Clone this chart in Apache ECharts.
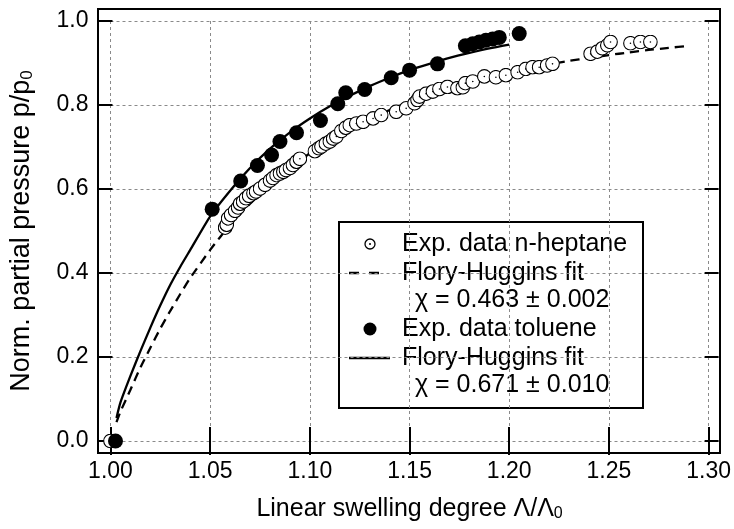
<!DOCTYPE html>
<html><head><meta charset="utf-8">
<script src="https://cdn.jsdelivr.net/npm/echarts@6/dist/echarts.min.js"></script>
<style>html,body{margin:0;padding:0;background:#fff}#c{width:734px;height:529px}</style>
</head><body><div id="c"></div>
<script>
// ---- data ----
var xTicks = [1.00, 1.05, 1.10, 1.15, 1.20, 1.25, 1.30];
var xTickLabels = ['1.00', '1.05', '1.10', '1.15', '1.20', '1.25', '1.30'];
var yTicks = [0.0, 0.2, 0.4, 0.6, 0.8, 1.0];
var yTickLabels = ['0.0', '0.2', '0.4', '0.6', '0.8', '1.0'];

var heptaneX = [1.000, 1.0575, 1.0583, 1.059, 1.0605, 1.0625, 1.064, 1.065, 1.0665, 1.068, 1.0695, 1.0717, 1.073, 1.075, 1.0775, 1.080, 1.0815, 1.0833, 1.085, 1.0867, 1.088, 1.090, 1.0915, 1.0933, 1.095, 1.1025, 1.1045, 1.1058, 1.108, 1.110, 1.1117, 1.1133, 1.1158, 1.118, 1.120, 1.1233, 1.1267, 1.1317, 1.1358, 1.1433, 1.1483, 1.1525, 1.154, 1.155, 1.1583, 1.1617, 1.165, 1.169, 1.174, 1.1767, 1.178, 1.1817, 1.1875, 1.1933, 1.1983, 1.2042, 1.2083, 1.2117, 1.215, 1.219, 1.2217, 1.2408, 1.2442, 1.2467, 1.2492, 1.2508, 1.2608, 1.2658, 1.2708];
var heptaneY = [0.000, 0.508, 0.515, 0.530, 0.538, 0.548, 0.556, 0.565, 0.570, 0.578, 0.584, 0.590, 0.594, 0.601, 0.610, 0.620, 0.626, 0.633, 0.637, 0.641, 0.645, 0.650, 0.657, 0.665, 0.672, 0.690, 0.697, 0.701, 0.708, 0.713, 0.720, 0.725, 0.738, 0.746, 0.752, 0.756, 0.760, 0.768, 0.776, 0.784, 0.792, 0.804, 0.812, 0.820, 0.827, 0.832, 0.838, 0.843, 0.840, 0.842, 0.852, 0.856, 0.868, 0.866, 0.871, 0.878, 0.886, 0.890, 0.890, 0.894, 0.898, 0.922, 0.927, 0.935, 0.942, 0.950, 0.947, 0.950, 0.950];

var tolueneX = [1.0025, 1.051, 1.0653, 1.0737, 1.0808, 1.085, 1.0933, 1.1053, 1.114, 1.118, 1.1275, 1.1408, 1.150, 1.164, 1.178, 1.1817, 1.185, 1.1883, 1.1917, 1.195, 1.205];
var tolueneY = [0.000, 0.552, 0.619, 0.656, 0.681, 0.713, 0.734, 0.763, 0.803, 0.829, 0.837, 0.865, 0.883, 0.898, 0.941, 0.946, 0.950, 0.954, 0.957, 0.961, 0.970];

var fitHeptaneX = [1.003, 1.005, 1.010, 1.015, 1.020, 1.025, 1.030, 1.035, 1.040, 1.050, 1.060, 1.070, 1.080, 1.090, 1.100, 1.110, 1.120, 1.130, 1.140, 1.150, 1.160, 1.170, 1.180, 1.190, 1.200, 1.210, 1.220, 1.230, 1.240, 1.250, 1.260, 1.270, 1.280, 1.290];
var fitHeptaneY = [0.045, 0.070, 0.122, 0.175, 0.222, 0.268, 0.310, 0.350, 0.388, 0.455, 0.515, 0.565, 0.610, 0.650, 0.685, 0.716, 0.742, 0.766, 0.788, 0.808, 0.825, 0.841, 0.854, 0.866, 0.877, 0.887, 0.897, 0.905, 0.912, 0.919, 0.925, 0.931, 0.936, 0.941];

var fitTolueneX = [1.003, 1.005, 1.010, 1.015, 1.020, 1.025, 1.030, 1.035, 1.040, 1.050, 1.060, 1.070, 1.080, 1.090, 1.100, 1.110, 1.120, 1.130, 1.140, 1.150, 1.160, 1.170, 1.180, 1.190, 1.200];
var fitTolueneY = [0.055, 0.092, 0.155, 0.214, 0.270, 0.323, 0.372, 0.415, 0.455, 0.535, 0.596, 0.650, 0.696, 0.735, 0.768, 0.797, 0.822, 0.845, 0.865, 0.883, 0.898, 0.912, 0.924, 0.935, 0.944];

function zip(a, b) { return a.map(function (v, i) { return [v, b[i]]; }); }

var FONT = '"Liberation Sans", Arial, Helvetica, sans-serif';
var openSym = 'image://data:image/svg+xml;charset=utf-8,' + encodeURIComponent(
  "<svg xmlns='http://www.w3.org/2000/svg' width='30' height='30' viewBox='0 0 30 30'>" +
  "<circle cx='15' cy='15' r='13.6' fill='white' stroke='black' stroke-width='2.2'/>" +
  "<circle cx='15' cy='15' r='1.6' fill='black'/></svg>");

var gridLine = { show: true, lineStyle: { color: '#8a8a8a', type: [3, 3], width: 1 } };
var tick = { show: true, inside: true, length: 14, lineStyle: { color: '#000', width: 2 } };
var LFONT = '25px ' + FONT;

var chart = echarts.init(document.getElementById('c'), null, { renderer: 'canvas' });
chart.setOption({
  animation: false,
  backgroundColor: '#fff',
  textStyle: { fontFamily: FONT },
  grid: [
    { left: 98, top: 9, width: 622, height: 444, show: true, borderColor: '#000', borderWidth: 2, backgroundColor: 'transparent' },
    { left: 110, top: 21, width: 600, height: 420 }
  ],
  xAxis: [
    { gridIndex: 0, type: 'value', min: 0.994, max: 1.305, show: false },
    { gridIndex: 1, type: 'value', min: 1.0, max: 1.3, interval: 0.05, position: 'bottom', offset: 12,
      axisLine: { show: false }, axisTick: tick, splitLine: gridLine,
      axisLabel: { fontSize: 23, color: '#000', margin: 7, fontFamily: FONT,
        formatter: function (v) { var i = xTicks.findIndex(function (t) { return Math.abs(t - v) < 1e-6; }); return i >= 0 ? xTickLabels[i] : ''; } },
      name: 'Linear swelling degree Λ/Λ{sub|0}', nameLocation: 'middle', nameGap: 43,
      nameTextStyle: { fontSize: 25, color: '#000', fontFamily: FONT,
        rich: { sub: { fontSize: 16, color: '#000', fontFamily: FONT, verticalAlign: 'bottom', padding: [10, 0, 0, 0] } } } },
    { gridIndex: 1, type: 'value', min: 1.0, max: 1.3, interval: 0.05, position: 'top', offset: 12,
      axisLine: { show: false }, axisTick: tick, splitLine: { show: false }, axisLabel: { show: false } }
  ],
  yAxis: [
    { gridIndex: 0, type: 'value', min: -0.0286, max: 1.0286, show: false },
    { gridIndex: 1, type: 'value', min: 0, max: 1, interval: 0.2, position: 'left', offset: 12,
      axisLine: { show: false }, axisTick: tick, splitLine: gridLine,
      axisLabel: { fontSize: 23, color: '#000', margin: 10, fontFamily: FONT,
        formatter: function (v) { var i = yTicks.findIndex(function (t) { return Math.abs(t - v) < 1e-6; }); return i >= 0 ? yTickLabels[i] : ''; } },
      name: 'Norm. partial pressure p/p{sub|0}', nameLocation: 'middle', nameGap: 63,
      nameTextStyle: { fontSize: 27, color: '#000', fontFamily: FONT,
        rich: { sub: { fontSize: 17, color: '#000', fontFamily: FONT, verticalAlign: 'bottom', padding: [11, 0, 0, 0] } } } },
    { gridIndex: 1, type: 'value', min: 0, max: 1, interval: 0.2, position: 'right', offset: 10,
      axisLine: { show: false }, axisTick: tick, splitLine: { show: false }, axisLabel: { show: false } }
  ],
  series: [
    { name: 'Flory-Huggins fit (n-heptane)', type: 'line', xAxisIndex: 1, yAxisIndex: 1, data: zip(fitHeptaneX, fitHeptaneY),
      showSymbol: false, smooth: 0.2, clip: false, z: 2, lineStyle: { color: '#000', width: 2.3, type: [9, 6] } },
    { name: 'Flory-Huggins fit (toluene)', type: 'line', xAxisIndex: 1, yAxisIndex: 1, data: zip(fitTolueneX, fitTolueneY),
      showSymbol: false, smooth: 0.2, clip: false, z: 2, lineStyle: { color: '#000', width: 2.3 } },
    { name: 'Exp. data n-heptane', type: 'scatter', xAxisIndex: 1, yAxisIndex: 1, data: zip(heptaneX, heptaneY),
      symbol: openSym, symbolSize: 15, clip: false, z: 3, itemStyle: { opacity: 1 } },
    { name: 'Exp. data toluene', type: 'scatter', xAxisIndex: 1, yAxisIndex: 1, data: zip(tolueneX, tolueneY),
      symbol: 'circle', symbolSize: 15, clip: false, z: 4, itemStyle: { color: '#000', opacity: 1 } }
  ],
  graphic: [
    { type: 'group', z: 100, children: [
      { type: 'rect', shape: { x: 339, y: 222, width: 304, height: 186 }, style: { fill: '#fff', stroke: '#000', lineWidth: 2 } },
      { type: 'circle', shape: { cx: 370, cy: 244, r: 5 }, style: { fill: '#fff', stroke: '#000', lineWidth: 1.3 } },
      { type: 'circle', shape: { cx: 370, cy: 244, r: 1 }, style: { fill: '#000' } },
      { type: 'line', shape: { x1: 349, y1: 273, x2: 381, y2: 273 }, style: { stroke: '#000', lineWidth: 2.3, lineDash: [10, 10] } },
      { type: 'circle', shape: { cx: 370, cy: 329, r: 6.5 }, style: { fill: '#000' } },
      { type: 'line', shape: { x1: 349, y1: 358, x2: 390, y2: 358 }, style: { stroke: '#000', lineWidth: 2.3 } },
      { type: 'text', style: { x: 402, y: 244, text: 'Exp. data n-heptane', fill: '#000', font: LFONT, textVerticalAlign: 'middle' } },
      { type: 'text', style: { x: 402, y: 273, text: 'Flory-Huggins fit', fill: '#000', font: LFONT, textVerticalAlign: 'middle' } },
      { type: 'text', style: { x: 415, y: 300, text: 'χ = 0.463 ± 0.002', fill: '#000', font: LFONT, textVerticalAlign: 'middle' } },
      { type: 'text', style: { x: 402, y: 329, text: 'Exp. data toluene', fill: '#000', font: LFONT, textVerticalAlign: 'middle' } },
      { type: 'text', style: { x: 402, y: 358, text: 'Flory-Huggins fit', fill: '#000', font: LFONT, textVerticalAlign: 'middle' } },
      { type: 'text', style: { x: 415, y: 385, text: 'χ = 0.671 ± 0.010', fill: '#000', font: LFONT, textVerticalAlign: 'middle' } }
    ] }
  ]
});
</script>
</body></html>
